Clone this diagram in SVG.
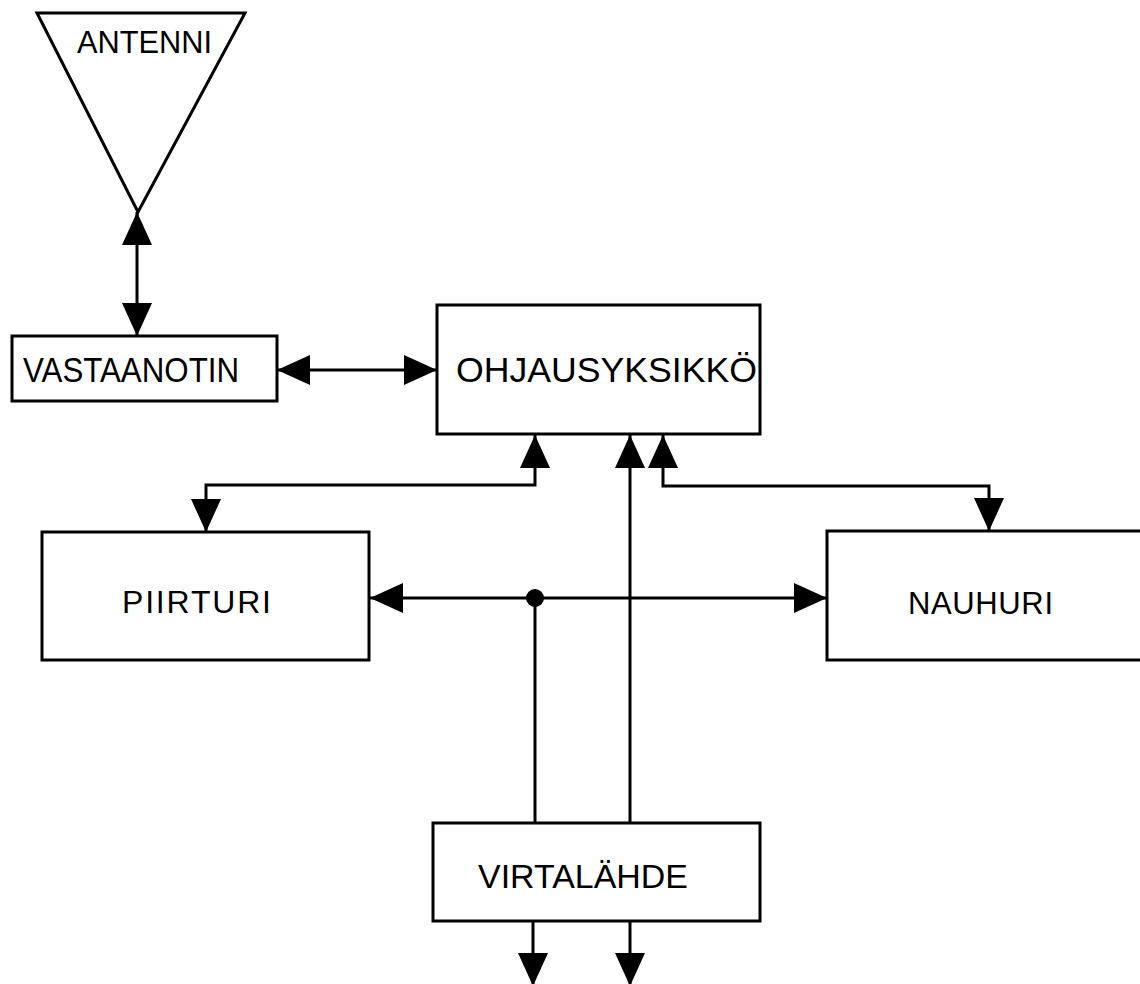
<svg xmlns="http://www.w3.org/2000/svg" width="1140" height="984" viewBox="0 0 1140 984">
<style>
.box{fill:#fff;stroke:#000;stroke-width:3}
.lbl{font-family:"Liberation Sans",Arial,sans-serif;fill:#000}
.con{fill:none;stroke:#000;stroke-width:3}
</style>
<defs>
<marker id="ah" viewBox="0 0 33 30" refX="33" refY="15" markerWidth="33" markerHeight="30" markerUnits="userSpaceOnUse" orient="auto-start-reverse">
<path d="M0,0 L33,15 L0,30 z" fill="#000"/>
</marker>
</defs>
<rect width="1140" height="984" fill="#fff"/>
<g id="connectors">
<line class="con" x1="137" y1="212" x2="137" y2="336" marker-start="url(#ah)" marker-end="url(#ah)"/>
<line class="con" x1="277" y1="370" x2="437" y2="370" marker-start="url(#ah)" marker-end="url(#ah)"/>
<path class="con" d="M535,435 V485 H206 V532" marker-start="url(#ah)" marker-end="url(#ah)"/>
<path class="con" d="M663,435 V486 H989 V531" marker-start="url(#ah)" marker-end="url(#ah)"/>
<line class="con" x1="370" y1="598" x2="827" y2="598" marker-start="url(#ah)" marker-end="url(#ah)"/>
<circle cx="535" cy="598" r="9" fill="#000"/>
<line class="con" x1="535" y1="598" x2="535" y2="823"/>
<line class="con" x1="630" y1="823" x2="630" y2="435" marker-end="url(#ah)"/>
<line class="con" x1="533" y1="921" x2="533" y2="986" marker-end="url(#ah)"/>
<line class="con" x1="630" y1="921" x2="630" y2="986" marker-end="url(#ah)"/>
</g>
<g id="antenni">
<polygon class="box" points="37,13 245,13 138,212"/>
<text class="lbl" x="77" y="53" font-size="32" textLength="135" lengthAdjust="spacingAndGlyphs">ANTENNI</text>
</g>
<g id="vastaanotin">
<rect class="box" x="12" y="336" width="265" height="65"/>
<text class="lbl" x="23" y="382" font-size="35" textLength="216" lengthAdjust="spacingAndGlyphs">VASTAANOTIN</text>
</g>
<g id="ohjausyksikko">
<rect class="box" x="437" y="305" width="323" height="129"/>
<text class="lbl" x="456" y="382" font-size="35" textLength="301" lengthAdjust="spacingAndGlyphs">OHJAUSYKSIKKÖ</text>
</g>
<g id="piirturi">
<rect class="box" x="42" y="532" width="327" height="128"/>
<text class="lbl" x="122" y="613" font-size="32" textLength="149" lengthAdjust="spacing">PIIRTURI</text>
</g>
<g id="nauhuri">
<rect class="box" x="827" y="531" width="330" height="129"/>
<text class="lbl" x="908" y="614" font-size="31" textLength="145" lengthAdjust="spacing">NAUHURI</text>
</g>
<g id="virtalahde">
<rect class="box" x="433" y="823" width="327" height="98"/>
<text class="lbl" x="478" y="888" font-size="34" textLength="210" lengthAdjust="spacingAndGlyphs">VIRTALÄHDE</text>
</g>
</svg>
